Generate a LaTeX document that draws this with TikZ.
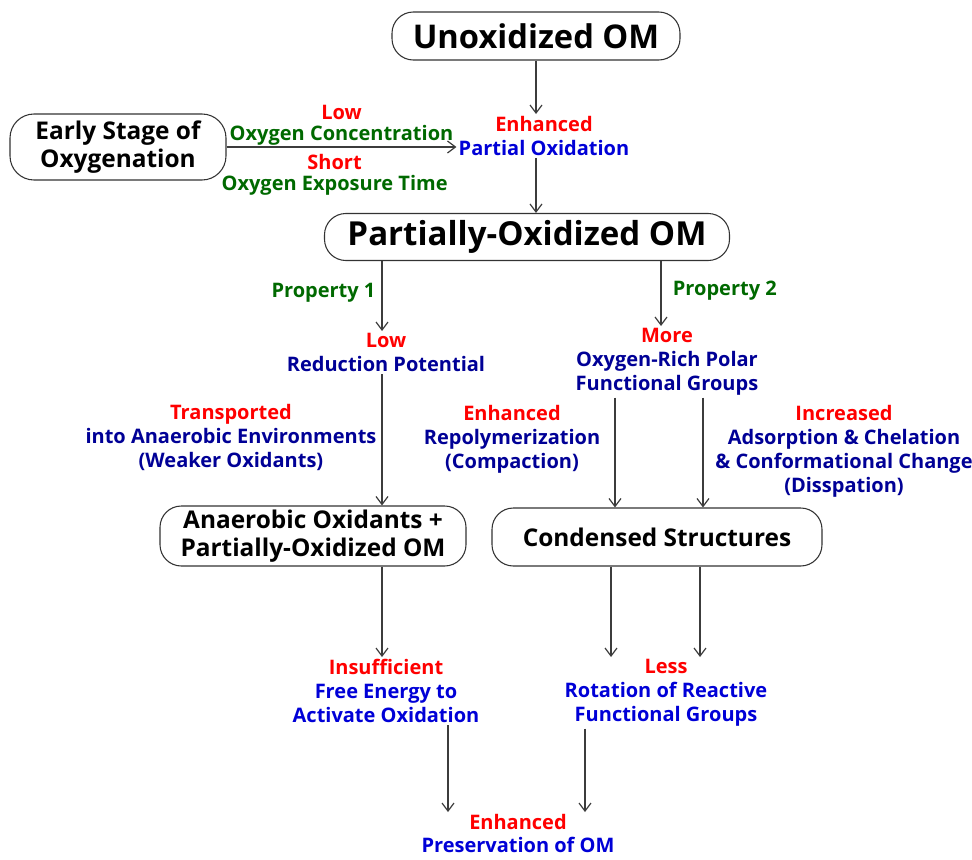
\documentclass[tikz,border=0pt]{standalone}
\usepackage{fontspec}
\setmainfont{Open Sans}
\usetikzlibrary{arrows.meta}
\definecolor{cred}{RGB}{255,0,0}
\definecolor{cgreen}{RGB}{0,105,0}
\definecolor{cblue}{RGB}{0,0,215}
\definecolor{cnavy}{RGB}{0,0,150}
\definecolor{cline}{RGB}{60,60,60}
\begin{document}
\begin{tikzpicture}[x=0.75pt,y=-0.75pt,
  box/.style={draw=black!80,line width=0.8pt,rounded corners=16pt,align=center,font=\bfseries\fontsize{18.3pt}{21.5pt}\selectfont,inner sep=0pt},
  lbl/.style={align=center,font=\bfseries\fontsize{15pt}{18pt}\selectfont,inner sep=1.5pt},
  lblt/.style={align=center,font=\bfseries\fontsize{15pt}{15.5pt}\selectfont,inner sep=1pt},
  arr/.style={draw=cline,line width=0.9pt,-{Straight Barb[length=6pt,width=9pt]}}]
\useasboundingbox (0,0) rectangle (972,860);
% columns
\coordinate (cA) at (382,0);
\coordinate (cB) at (661,0);
\coordinate (cC) at (615,0);
\coordinate (cD) at (703,0);
\coordinate (cE) at (611,0);
\coordinate (cF) at (700,0);
\coordinate (cG) at (448,0);
\coordinate (cH) at (585,0);
\coordinate (cM) at (536,0);
% boxes
\node[box,minimum width=288pt*0.75,minimum height=48pt*0.75,font=\bfseries\fontsize{24.5pt}{28pt}\selectfont] (unox) at (536,36) {Unoxidized OM};
\node[box,minimum width=216pt*0.75,minimum height=66pt*0.75,rounded corners=18pt] (early) at (118,147) {Early Stage of\\Oxygenation};
\node[box,minimum width=405pt*0.75,minimum height=47pt*0.75,font=\bfseries\fontsize{24.8pt}{28pt}\selectfont] (pox) at (527,237) {Partially-Oxidized OM};
\node[box,minimum width=306pt*0.75,minimum height=60pt*0.75] (anaer) at (313,536) {Anaerobic Oxidants +\\Partially-Oxidized OM};
\node[box,minimum width=330pt*0.75,minimum height=58pt*0.75] (cond) at (657,537) {Condensed Structures};
% labels
\node[lbl,anchor=north] (enh) at (544,114) {\textcolor{cred}{Enhanced}\\\textcolor{cblue}{Partial Oxidation}};
\node[lbl,anchor=north] (lowrp) at (386,331) {\textcolor{cred}{Low}\\\textcolor{cnavy}{Reduction Potential}};
\node[lbl,anchor=north] (more) at (667,326) {\textcolor{cred}{More}\\\textcolor{cnavy}{Oxygen-Rich Polar}\\\textcolor{cnavy}{Functional Groups}};
\node[lbl] (transp) at (231,437) {\textcolor{cred}{Transported}\\\textcolor{cnavy}{into Anaerobic Environments}\\\textcolor{cnavy}{(Weaker Oxidants)}};
\node[lbl] (repol) at (512,439) {\textcolor{cred}{Enhanced}\\\textcolor{cnavy}{Repolymerization}\\\textcolor{cnavy}{(Compaction)}};
\node[lbl] (adsor) at (844,451) {\textcolor{cred}{Increased}\\\textcolor{cnavy}{Adsorption \& Chelation}\\\textcolor{cnavy}{\& Conformational Change}\\\textcolor{cnavy}{(Disspation)}};
\node[lbl,anchor=north] (insuf) at (386,657) {\textcolor{cred}{Insufficient}\\\textcolor{cblue}{Free Energy to}\\\textcolor{cblue}{Activate Oxidation}};
\node[lbl,anchor=north] (less) at (666,657) {\textcolor{cred}{Less}\\\textcolor{cblue}{Rotation of Reactive}\\\textcolor{cblue}{Functional Groups}};
\node[lbl,anchor=north,font=\bfseries\fontsize{15pt}{17pt}\selectfont] (pres) at (518,812) {\textcolor{cred}{Enhanced}\\\textcolor{cblue}{Preservation of OM}};
% connectors
\draw[arr] (unox.south -| cM) -- (enh.north -| cM);
\draw[arr] (early.east) -- node[lblt,above,pos=0.5] (lowoc) {\textcolor{cred}{Low}\\\textcolor{cgreen}{Oxygen Concentration}}
  node[lblt,below,pos=0.47,yshift=-4pt] (shortoe) {\textcolor{cred}{Short}\\\textcolor{cgreen}{Oxygen Exposure Time}} (enh.west |- early.east);
\draw[arr] (enh.south -| cM) -- (pox.north -| cM);
\draw[arr] (pox.south -| cA) -- node[lbl,left,pos=0.45,xshift=-3pt] (p1) {\textcolor{cgreen}{Property 1}} (lowrp.north -| cA);
\draw[arr] (pox.south -| cB) -- node[lbl,right,pos=0.45,xshift=7pt] (p2) {\textcolor{cgreen}{Property 2}} (more.north -| cB);
\draw[arr] (lowrp.south -| cA) -- (anaer.north -| cA);
\draw[arr] (more.south -| cC) -- (cond.north -| cC);
\draw[arr] (more.south -| cD) -- (cond.north -| cD);
\draw[arr] (anaer.south -| cA) -- (insuf.north -| cA);
\draw[arr] (cond.south -| cE) -- (less.north -| cE);
\draw[arr] (cond.south -| cF) -- (less.north -| cF);
\draw[arr] (insuf.south -| cG) -- (pres.north -| cG);
\draw[arr] (less.south -| cH) -- (pres.north -| cH);
\end{tikzpicture}
\end{document}
